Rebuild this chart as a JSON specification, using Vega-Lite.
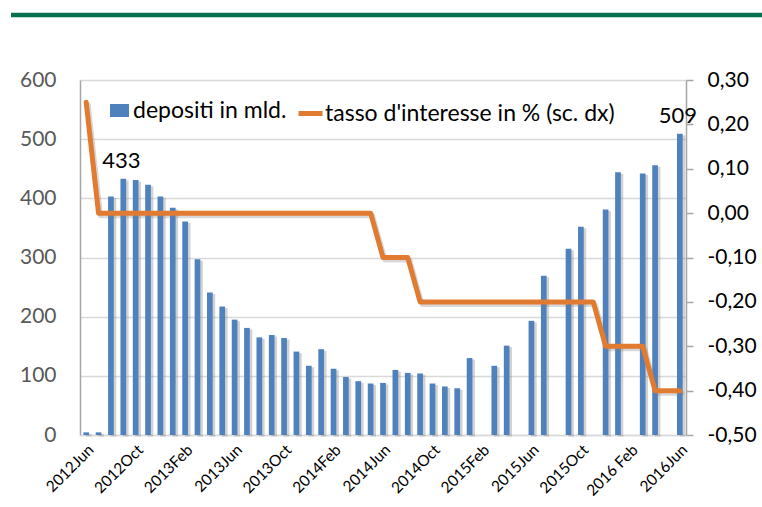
{
  "$schema": "https://vega.github.io/schema/vega-lite/v6.json",
  "width": 606,
  "height": 355,
  "autosize": {"type": "none"},
  "padding": {"left": 80, "top": 80, "right": 76, "bottom": 72},
  "background": "white",
  "config": {
    "font": "Lato",
    "locale": {"number": {"decimal": ",", "thousands": ".", "grouping": [3], "currency": ["", " €"], "minus": "-"}},
    "view": {"stroke": null},
    "legend": {"labelFont": "Lato", "labelFontSize": 23, "labelColor": "#000000", "padding": 0, "labelLimit": 500}
  },
  "data": {
    "values": [
      {"month": "2012Jun", "dep": 4.5, "rate": 0.25},
      {"month": "2012Jul", "dep": 4.5, "rate": 0},
      {"month": "2012Aug", "dep": 403, "rate": 0},
      {"month": "2012Sep", "dep": 433, "rate": 0, "label": "433"},
      {"month": "2012Oct", "dep": 431, "rate": 0},
      {"month": "2012Nov", "dep": 423, "rate": 0},
      {"month": "2012Dec", "dep": 403, "rate": 0},
      {"month": "2013Jan", "dep": 384, "rate": 0},
      {"month": "2013Feb", "dep": 361, "rate": 0},
      {"month": "2013Mar", "dep": 297, "rate": 0},
      {"month": "2013Apr", "dep": 241, "rate": 0},
      {"month": "2013May", "dep": 217, "rate": 0},
      {"month": "2013Jun", "dep": 195, "rate": 0},
      {"month": "2013Jul", "dep": 181, "rate": 0},
      {"month": "2013Aug", "dep": 165, "rate": 0},
      {"month": "2013Sep", "dep": 169, "rate": 0},
      {"month": "2013Oct", "dep": 164, "rate": 0},
      {"month": "2013Nov", "dep": 141, "rate": 0},
      {"month": "2013Dec", "dep": 117, "rate": 0},
      {"month": "2014Jan", "dep": 145, "rate": 0},
      {"month": "2014Feb", "dep": 112, "rate": 0},
      {"month": "2014Mar", "dep": 98, "rate": 0},
      {"month": "2014Apr", "dep": 91, "rate": 0},
      {"month": "2014May", "dep": 87, "rate": 0},
      {"month": "2014Jun", "dep": 88, "rate": -0.1},
      {"month": "2014Jul", "dep": 110, "rate": -0.1},
      {"month": "2014Aug", "dep": 105, "rate": -0.1},
      {"month": "2014Sep", "dep": 104, "rate": -0.2},
      {"month": "2014Oct", "dep": 87, "rate": -0.2},
      {"month": "2014Nov", "dep": 82, "rate": -0.2},
      {"month": "2014Dec", "dep": 79, "rate": -0.2},
      {"month": "2015Jan", "dep": 130, "rate": -0.2},
      {"month": "2015Feb", "dep": null, "rate": -0.2},
      {"month": "2015Mar", "dep": 117, "rate": -0.2},
      {"month": "2015Apr", "dep": 151, "rate": -0.2},
      {"month": "2015May", "dep": null, "rate": -0.2},
      {"month": "2015Jun", "dep": 193, "rate": -0.2},
      {"month": "2015Jul", "dep": 269, "rate": -0.2},
      {"month": "2015Aug", "dep": null, "rate": -0.2},
      {"month": "2015Sep", "dep": 315, "rate": -0.2},
      {"month": "2015Oct", "dep": 352, "rate": -0.2},
      {"month": "2015Nov", "dep": null, "rate": -0.2},
      {"month": "2015Dec", "dep": 381, "rate": -0.3},
      {"month": "2016Jan", "dep": 444, "rate": -0.3},
      {"month": "2016 Feb", "dep": null, "rate": -0.3},
      {"month": "2016Mar", "dep": 442, "rate": -0.3},
      {"month": "2016Apr", "dep": 456, "rate": -0.4},
      {"month": "2016May", "dep": null, "rate": -0.4},
      {"month": "2016Jun", "dep": 509, "rate": -0.4, "label": "509"}
    ]
  },
  "layer": [
    {
      "layer": [
        {
          "encoding": {
            "x": {
              "field": "month", "type": "nominal", "sort": null,
              "scale": {
                "type": "band", "paddingInner": 0.54, "paddingOuter": 0.27,
                "domain": ["2012Jun", "2012Jul", "2012Aug", "2012Sep", "2012Oct", "2012Nov", "2012Dec", "2013Jan", "2013Feb", "2013Mar", "2013Apr", "2013May", "2013Jun", "2013Jul", "2013Aug", "2013Sep", "2013Oct", "2013Nov", "2013Dec", "2014Jan", "2014Feb", "2014Mar", "2014Apr", "2014May", "2014Jun", "2014Jul", "2014Aug", "2014Sep", "2014Oct", "2014Nov", "2014Dec", "2015Jan", "2015Feb", "2015Mar", "2015Apr", "2015May", "2015Jun", "2015Jul", "2015Aug", "2015Sep", "2015Oct", "2015Nov", "2015Dec", "2016Jan", "2016 Feb", "2016Mar", "2016Apr", "2016May", "2016Jun"]
              },
              "axis": {
                "title": null,
                "values": ["2012Jun", "2012Oct", "2013Feb", "2013Jun", "2013Oct", "2014Feb", "2014Jun", "2014Oct", "2015Feb", "2015Jun", "2015Oct", "2016 Feb", "2016Jun"],
                "labelAngle": -45, "ticks": false, "labelPadding": 7,
                "labelFont": "Lato", "labelFontSize": 15.5, "labelColor": "#000000",
                "domainColor": "#d9d9d9", "domainWidth": 1.5, "grid": false
              }
            },
            "y": {
              "field": "dep", "type": "quantitative",
              "scale": {"domain": [0, 600], "nice": false},
              "axis": {
                "title": null, "orient": "left",
                "values": [0, 100, 200, 300, 400, 500, 600],
                "grid": true, "gridColor": "#d9d9d9", "gridWidth": 1.5,
                "ticks": false, "labelPadding": 24,
                "labelFont": "Lato", "labelFontSize": 21, "labelColor": "#595959",
                "domainColor": "#a6a6a6", "domainWidth": 1.5
              }
            }
          },
          "layer": [
            {
              "mark": {"type": "bar", "color": "#7f7f7f", "opacity": 0.35, "xOffset": 2.5, "yOffset": 1.5}
            },
            {
              "mark": {"type": "bar"},
              "encoding": {
                "color": {
                  "datum": "depositi in mld.",
                  "type": "nominal",
                  "scale": {"range": ["#4f81bd"]},
                  "legend": {
                    "title": null, "orient": "none", "legendX": 28, "legendY": 19,
                    "symbolType": "M-1,-0.684L1,-0.684L1,0.684L-1,0.684Z",
                    "symbolSize": 361, "symbolStrokeWidth": 0, "labelOffset": 2
                  }
                }
              }
            },
            {
              "transform": [{"filter": "datum.label != null"}],
              "mark": {"type": "text", "baseline": "bottom", "dy": -6, "dx": -2, "fontSize": 22, "font": "Lato", "color": "#000000"},
              "encoding": {"text": {"field": "label"}}
            }
          ]
        },
        {
          "encoding": {
            "x": {"field": "month", "type": "nominal", "sort": null},
            "y": {
              "field": "rate", "type": "quantitative",
              "scale": {"domain": [-0.5, 0.3], "nice": false, "zero": false},
              "axis": {
                "title": null, "orient": "right",
                "values": [-0.5, -0.4, -0.3, -0.2, -0.1, 0, 0.1, 0.2, 0.3],
                "format": ".2f", "grid": false,
                "ticks": true, "tickSize": 7, "tickColor": "#a6a6a6", "tickWidth": 1.5,
                "labelPadding": 14,
                "labelFont": "Lato", "labelFontSize": 21, "labelColor": "#000000",
                "domainColor": "#a6a6a6", "domainWidth": 1.5
              }
            }
          },
          "layer": [
            {
              "mark": {"type": "line", "color": "#7f7f7f", "opacity": 0.3, "strokeWidth": 5, "xOffset": 2, "yOffset": 2.5, "strokeCap": "round", "strokeJoin": "round"}
            },
            {
              "mark": {"type": "line", "strokeWidth": 5, "strokeCap": "round", "strokeJoin": "round"},
              "encoding": {
                "stroke": {
                  "datum": "tasso d'interesse in % (sc. dx)",
                  "type": "nominal",
                  "scale": {"range": ["#e07b31"]},
                  "legend": {
                    "title": null, "orient": "none", "legendX": 216, "legendY": 19,
                    "symbolType": "stroke", "symbolSize": 576, "symbolStrokeWidth": 5, "labelOffset": 0
                  }
                }
              }
            }
          ]
        }
      ],
      "resolve": {"scale": {"y": "independent"}}
    },
    {
      "data": {"values": [{"start": 0, "end": 1, "level": 1}]},
      "mark": {"type": "rule", "color": "#0b6e4f", "strokeWidth": 4.5, "clip": false},
      "encoding": {
        "x": {"field": "start", "type": "quantitative", "scale": {"domain": [0, 1], "range": [-69, 682]}, "axis": null},
        "x2": {"field": "end"},
        "y": {"field": "level", "type": "quantitative", "scale": {"domain": [0, 1], "range": [0, -65]}, "axis": null}
      }
    }
  ],
  "resolve": {"scale": {"x": "independent", "y": "independent"}}
}
